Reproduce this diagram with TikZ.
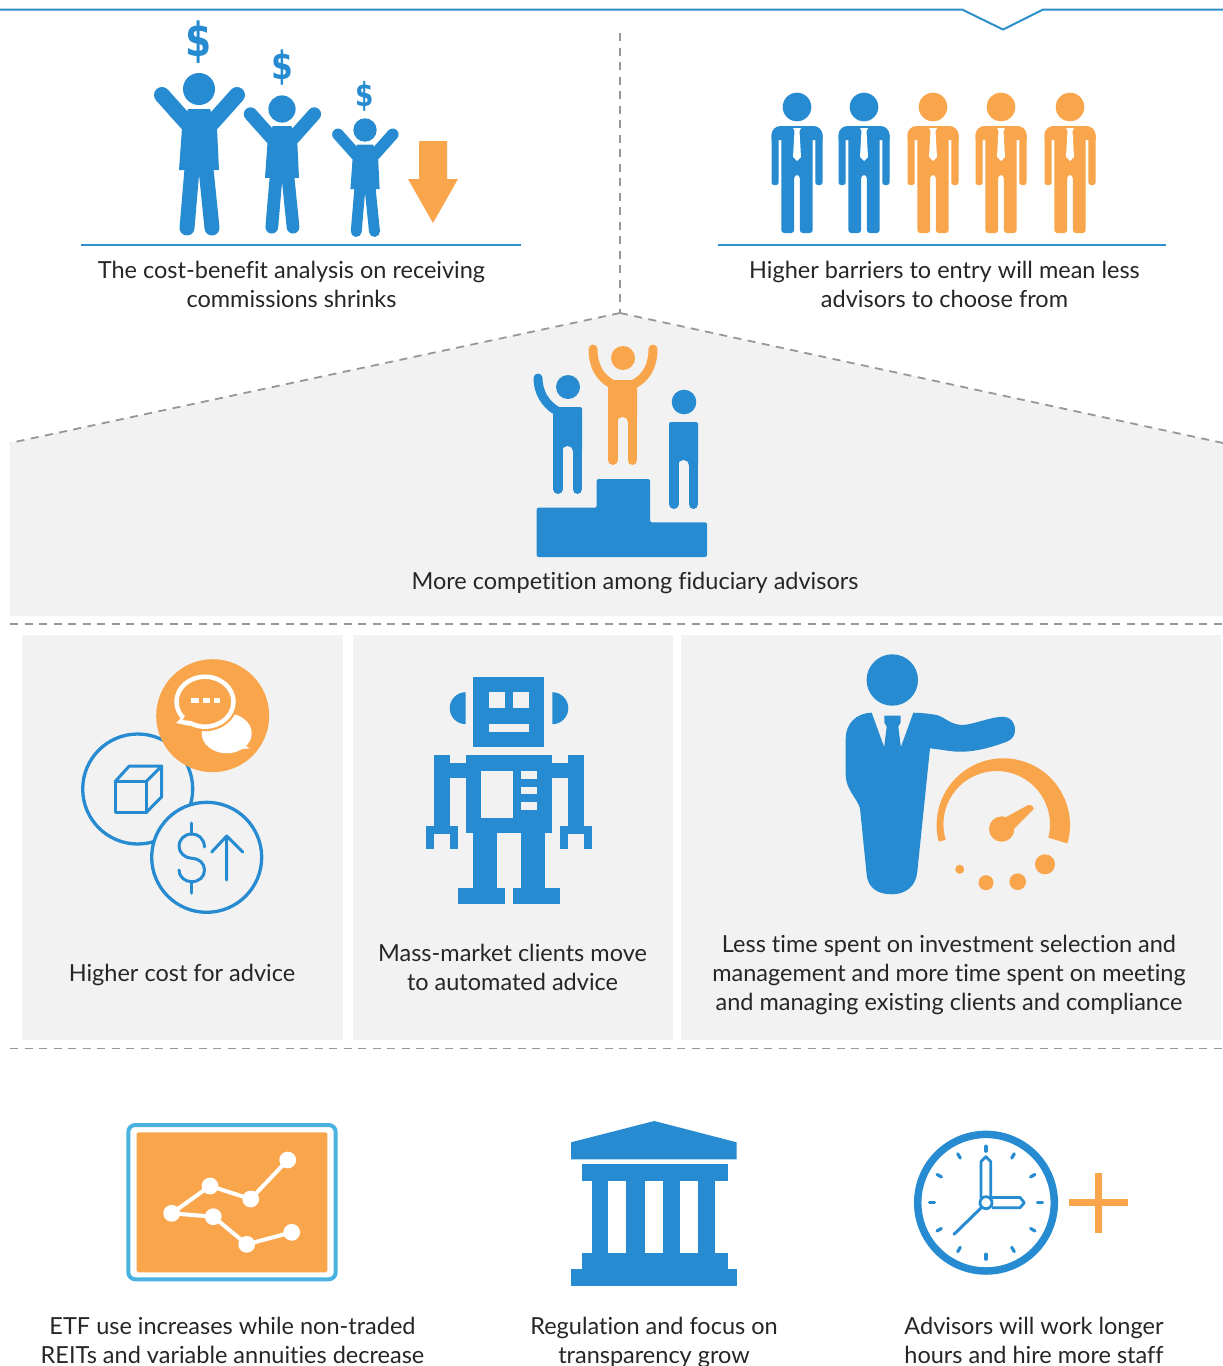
\documentclass[tikz,border=0pt]{standalone}
\usepackage{fontspec}
\usepackage{graphicx}
\usetikzlibrary{calc}
\setmainfont{Lato}[Ligatures=NoCommon]
\newfontfamily\heavyfont{DejaVu Sans}
\definecolor{bluea}{HTML}{268BD0}
\definecolor{blueb}{HTML}{2E8FCB}
\definecolor{bluec}{HTML}{49B2DE}
\definecolor{orangea}{HTML}{F9A54B}
\definecolor{panel}{HTML}{F2F2F2}
\definecolor{dashgray}{HTML}{979797}
\definecolor{ink}{HTML}{262626}
\tikzset{
  lbl/.style={font=\fontsize{23.5}{29}\selectfont,align=center,text=ink,inner sep=0pt,anchor=center},
  dollarmark/.style={text=bluea,inner sep=0pt,anchor=center},
  dashline/.style={draw=dashgray,line width=1.8pt,dash pattern=on 8pt off 6.5pt},
  ruleline/.style={draw=blueb,line width=2pt},
  thin blue/.style={draw=bluea,line width=3pt,line cap=round,line join=round}
}
\newcommand{\cheerman}[3]{% x, y of head, scale
  \begin{scope}[shift={(#1,#2)},scale=#3]
    \fill[bluea] (0,0) circle (16);
    \draw[bluea,line width=#3*16pt,line cap=round] (-37,6) -- (-12,34);
    \draw[bluea,line width=#3*16pt,line cap=round] (38,6) -- (13,34);
    \fill[bluea] (-11,20) -- (11,20) -- (18,39) -- (20,81) -- (-20,81) -- (-17,39) -- cycle;
    \draw[bluea,line width=#3*15pt,line cap=round] (-7,80) -- (-12,139);
    \draw[bluea,line width=#3*15pt,line cap=round] (7,80) -- (13,139);
  \end{scope}}
\newcommand{\suitman}[2]{% x, colour
  \begin{scope}[shift={(#1,0)}]
    \fill[#2] (0,107) circle (14.3);
    \fill[#2] (-25.5,140) [rounded corners=9pt] -- (-25.5,126) -- (25.5,126) [sharp corners] -- (25.5,140) -- cycle;
    \fill[#2,rounded corners=2.5pt] (-25.5,132) -- (-25.5,185) -- (-18.3,185) -- (-18.3,132) -- cycle;
    \fill[#2,rounded corners=2.5pt] (25.5,132) -- (25.5,185) -- (18.3,185) -- (18.3,132) -- cycle;
    \fill[#2] (-18.7,130) rectangle (18.7,140);
    \fill[#2,rounded corners=3pt] (-15.7,135) -- (-15.7,233) -- (-2.8,233) -- (-2.8,175) -- (2.8,175) -- (2.8,233) -- (15.7,233) -- (15.7,135) -- cycle;
    \fill[white] (-4,128) -- (4,128) -- (2.5,131) -- (4,157) -- (0,161) -- (-4,157) -- (-2.5,131) -- cycle;
  \end{scope}}
\newcommand{\podiumman}[6]{% x1 x2 top gaptop bottom colour
  \fill[#6,rounded corners=2pt] (#1,#3) rectangle (#2,#4+6);
  \fill[panel] ({(#1+#2)/2},#4+5.5) circle (5.5);
  \draw[#6,line width=9.5pt,line cap=round] (#1+4.75,#4) -- (#1+4.75,#5-4.75);
  \draw[#6,line width=9.5pt,line cap=round] (#2-4.75,#4) -- (#2-4.75,#5-4.75);
}
\begin{document}
\begin{tikzpicture}[x=1pt,y=-1pt]
\useasboundingbox (0,0) rectangle (1223,1366);
\fill[white] (0,0) rectangle (1223,1366);
% top rule
\coordinate (t1) at (0,9.5); \coordinate (t2) at (962,9.5); \coordinate (t3) at (1003,29.5);
\coordinate (t4) at (1043,9.5); \coordinate (t5) at (1223,9.5);
\draw[ruleline,line join=round] (t1) -- (t2) -- (t3) -- (t4) -- (t5);
% grey shapes
\fill[panel] (10,443) -- (620,313) -- (1223,443) -- (1223,616) -- (10,616) -- cycle;
\fill[panel] (22,635) rectangle (343,1040);
\fill[panel] (353,635) rectangle (673,1040);
\fill[panel] (681,635) rectangle (1221,1040);
% dashes
\coordinate (d0) at (620,33); \coordinate (d1) at (620,313);
\coordinate (d2) at (10,443); \coordinate (d3) at (1223,443);
\draw[dashline] (d0) -- (d1);
\draw[dashline] (d1) -- (d2);
\draw[dashline] (d1) -- (d3);
\coordinate (h1a) at (10,624); \coordinate (h1b) at (1223,624);
\coordinate (h2a) at (10,1048.5); \coordinate (h2b) at (1223,1048.5);
\draw[dashline] (h1a) -- (h1b);
\draw[dashline] (h2a) -- (h2b);
% rules under figures
\coordinate (r1a) at (81,245); \coordinate (r1b) at (521,245);
\coordinate (r2a) at (718,245); \coordinate (r2b) at (1166,245);
\draw[ruleline] (r1a) -- (r1b);
\draw[ruleline] (r2a) -- (r2b);
% cheering people
\cheerman{199}{89}{1}
\cheerman{282}{109}{0.85}
\cheerman{365}{130}{0.73}
\node[dollarmark,font=\heavyfont\bfseries\fontsize{47}{47}\selectfont] (dolA) at (199,42) {\scalebox{0.8}[1]{\$}};
\node[dollarmark,font=\heavyfont\bfseries\fontsize{39}{39}\selectfont] (dolB) at (282.7,68) {\scalebox{0.8}[1]{\$}};
\node[dollarmark,font=\heavyfont\bfseries\fontsize{33}{33}\selectfont] (dolC) at (365,96) {\scalebox{0.8}[1]{\$}};
\fill[orangea] (419,141) -- (447,141) -- (447,179) -- (458,179) -- (433,223) -- (408,179) -- (419,179) -- cycle;
% suited people
\suitman{797}{bluea}
\suitman{864}{bluea}
\suitman{933}{orangea}
\suitman{1001}{orangea}
\suitman{1070}{orangea}
% podium
\fill[bluea,rounded corners=2pt] (536.7,557) -- (536.7,507.7) -- (596.7,507.7) -- (596.7,479) -- (650,479) -- (650,522.3) -- (707,522.3) -- (707,557) -- cycle;
\fill[orangea] (623,358) circle (12);
\podiumman{608}{637}{380}{417}{465}{orangea}
\draw[orangea,line width=9pt,line cap=round] (593,349) .. controls (593,366) and (600,378) .. (612,384);
\draw[orangea,line width=9pt,line cap=round] (653,349) .. controls (653,366) and (646,378) .. (634,384);
\fill[bluea] (568,387) circle (12);
\podiumman{553}{582}{407}{446}{494}{bluea}
\draw[bluea,line width=9pt,line cap=round] (538,378) .. controls (538,392) and (545,404) .. (557,411);
\fill[bluea] (684,402) circle (12.3);
\podiumman{669}{698}{422}{460}{509}{bluea}
% advice circles
\draw[bluea,line width=3.3pt] (137.7,789) circle (55);
\fill[orangea] (212.7,715.7) circle (56.5);
\draw[bluea,line width=3.3pt,fill=panel] (206.7,857.3) circle (55);
\draw[thin blue] (115,781.7) rectangle (146,812.7);
\draw[thin blue] (115,781.7) -- (129.3,766) -- (161.7,766) -- (146,781.7) (161.7,766) -- (161.7,796.7) -- (146,812.7);
\draw[thin blue] (204.5,847) .. controls (204,838) and (198,834) .. (191.7,834) .. controls (184,834) and (179,840) .. (179,846) .. controls (179,853) and (185,858) .. (191.7,858.3) .. controls (199,858.5) and (204.5,863) .. (204.5,870) .. controls (204.5,877) and (199,881.7) .. (191.7,881.7) .. controls (185,881.7) and (179,877) .. (179,870);
\draw[thin blue] (191.7,823) -- (191.7,834) (191.7,881.7) -- (191.7,893);
\draw[thin blue] (226.7,880) -- (226.7,836) (211.7,852) -- (226.7,836) -- (242.7,852);
% speech bubbles
\fill[white] (226.7,733.3) ellipse (25 and 20);
\fill[white] (238,742) -- (250,748.3) -- (230,750) -- cycle;
\draw[orangea,line width=9pt] (205,701.7) ellipse (28.5 and 25);
\fill[white] (185,714) -- (176,723) -- (190,726) -- cycle;
\draw[white,line width=4.5pt,fill=orangea] (205,701.7) ellipse (28.5 and 25);
\fill[orangea] (187,713) -- (182.5,720) -- (192,721) -- cycle;
\fill[white] (190.7,698) rectangle (199,703);
\fill[white] (202.7,698) rectangle (210,703);
\fill[white] (213.5,698) rectangle (220,703);
% robot
\fill[bluea] (473.3,676.7) rectangle (544.3,747.3);
\fill[panel] (489.3,692.3) rectangle (505,707.7);
\fill[panel] (513,692.3) rectangle (528.7,707.7);
\fill[panel] (489.3,723.7) rectangle (528.7,731.7);
\fill[bluea] (465.7,692.2) arc[start angle=-90,end angle=-270,radius=16] -- cycle;
\fill[bluea] (552.3,692.2) arc[start angle=-90,end angle=90,radius=16] -- cycle;
\fill[bluea] (465.7,755) rectangle (552.3,833.3);
\fill[panel] (481,771) rectangle (512.7,818);
\fill[panel] (521,771) rectangle (536.7,779);
\fill[panel] (521,786.7) rectangle (536.7,794.3);
\fill[panel] (521,802.3) rectangle (536.7,810.3);
\fill[bluea] (434,755) rectangle (450,826);
\fill[bluea] (450,763) rectangle (466,778.3);
\fill[bluea] (426,826) rectangle (457.7,834);
\fill[bluea] (426,834) rectangle (434,849.3);
\fill[bluea] (449.7,834) rectangle (457.7,849.3);
\fill[bluea] (568,755) rectangle (584,826);
\fill[bluea] (552,763) rectangle (568,778.3);
\fill[bluea] (560,826) rectangle (591.7,834);
\fill[bluea] (560,834) rectangle (568,849.3);
\fill[bluea] (583.7,834) rectangle (591.7,849.3);
\fill[bluea] (473.3,833) rectangle (497.3,889);
\fill[bluea] (521,833) rectangle (545,889);
\fill[bluea] (457.7,888.3) rectangle (505,904.3);
\fill[bluea] (513,888.3) rectangle (560,904.3);
% business man
\fill[bluea] (892.3,680) circle (25.7);
\fill[bluea] (871.7,712.7) .. controls (856,713) and (845.7,724) .. (845.7,738.3) -- (845.7,775) .. controls (846,790) and (857,798) .. (860,808.3) -- (866.7,875) .. controls (868,888) and (878,894.3) .. (891.7,894.3) .. controls (906,894.3) and (916,886) .. (917.3,871.7) -- (930,748.3) .. controls (945,750) and (952,752) .. (963.3,751.7) .. controls (980,751) and (995,746) .. (1006.7,741.7) .. controls (1013,739) and (1015,735) .. (1015,730) .. controls (1015,722) and (1010,716.7) .. (1003.3,716.7) .. controls (990,717) and (975,724) .. (963.3,725) .. controls (950,725) and (945,717) .. (936.7,715) .. controls (928,713.5) and (920,712.7) .. (913.3,712.7) -- (901,746.7) -- (884,746.7) -- cycle;
\fill[bluea] (884.3,715.7) -- (900.7,715.7) -- (900.7,722.3) -- (898.3,726.7) -- (901,748) -- (884,748) -- (886.7,726.7) -- (884.3,722.3) -- cycle;
% gauge
\fill[orangea] ($(1003.3,825)+(16:66.7)$) arc[start angle=16,end angle=-194.4,radius=66.7] -- ($(996.7,824.3)+(-197:53.3)$) arc[start angle=-197,end angle=14.5,radius=53.3] -- cycle;
\fill[orangea] (1001.7,829) circle (12.7);
\fill[orangea,rounded corners=2pt] (1005,817.7) -- (1030,804) -- (1034.5,808.3) -- (1014.3,828.7) -- cycle;
\fill[orangea] (959.7,869.3) circle (4.5);
\fill[orangea] (986,882.7) circle (7.5);
\fill[orangea] (1017.7,881.7) circle (8.3);
\fill[orangea] (1045,864.3) circle (10);
% chart
\draw[bluec,line width=4pt,fill=white,rounded corners=7pt] (128.3,1125) rectangle (335.7,1279.3);
\fill[orangea,rounded corners=1.5pt] (136.7,1132.3) rectangle (327.3,1272.3);
\draw[white,line width=4pt] (287.7,1160) -- (250.7,1199) -- (210,1186) -- (171.7,1213.3) -- (213.3,1216.7) -- (246.7,1244.3) -- (291.7,1232.3);
\foreach \px/\py in {287.7/1160,250.7/1199,210/1186,171.7/1213.3,213.3/1216.7,246.7/1244.3,291.7/1232.3}
  \fill[white] (\px,\py) circle (8.4);
% bank
\fill[bluea] (571,1142.3) -- (654.3,1121) -- (736.7,1142.3) -- (736.7,1159.3) -- (571,1159.3) -- cycle;
\fill[bluea] (581.7,1164.3) rectangle (728.3,1180.7);
\fill[bluea] (591.7,1180) rectangle (715,1254);
\fill[white] (608.3,1180.7) rectangle (626,1253.3);
\fill[white] (645,1180.7) rectangle (662.7,1253.3);
\fill[white] (680,1180.7) rectangle (697.7,1253.3);
\fill[bluea] (581.7,1253.3) rectangle (728.3,1270);
\fill[bluea] (571,1269.3) rectangle (736.7,1286);
% clock
\draw[bluea,line width=7.5pt] (986,1202.7) circle (68.3);
\foreach \a in {0,30,...,330}
  \draw[bluea,line width=3.2pt,line cap=round] ($(986,1202.7)+(\a:51.5)$) -- ($(986,1202.7)+(\a:56.5)$);
\draw[bluea,line width=3pt,line cap=round] (981.7,1207.3) -- (954,1234.3);
\draw[bluea,line width=2.8pt,line join=round] (981,1198) -- (981,1161.7) -- (986,1156.7) -- (990.7,1161.7) -- (990.7,1198);
\draw[bluea,line width=2.8pt,line join=round] (992,1197.4) -- (1020,1197.4) -- (1024.3,1202.7) -- (1020,1207.7) -- (992,1207.7);
\draw[bluea,line width=2.8pt,fill=white] (986,1202.7) circle (6);
\fill[orangea] (1069,1199.3) rectangle (1127.7,1206);
\fill[orangea] (1095,1172.7) rectangle (1101.7,1232.7);
% labels
\node[lbl] (tA) at (291.5,284.5) {The cost-benefit analysis on receiving\\commissions shrinks};
\node[lbl] (tB) at (944.5,284.5) {Higher barriers to entry will mean less\\advisors to choose from};
\node[lbl] (tC) at (635,583) {More competition among fiduciary advisors};
\node[lbl] (tD) at (182,975) {Higher cost for advice};
\node[lbl] (tE) at (512.5,967.5) {Mass-market clients move\\to automated advice};
\node[lbl] (tF) at (949,975) {Less time spent on investment selection and\\management and more time spent on meeting\\and managing existing clients and compliance};
\node[lbl] (tG) at (232.5,1340.5) {ETF use increases while non-traded\\REITs and variable annuities decrease};
\node[lbl] (tH) at (654,1342.5) {Regulation and focus on\\transparency grow};
\node[lbl] (tI) at (1034,1340.5) {Advisors will work longer\\hours and hire more staff};
\end{tikzpicture}
\end{document}
